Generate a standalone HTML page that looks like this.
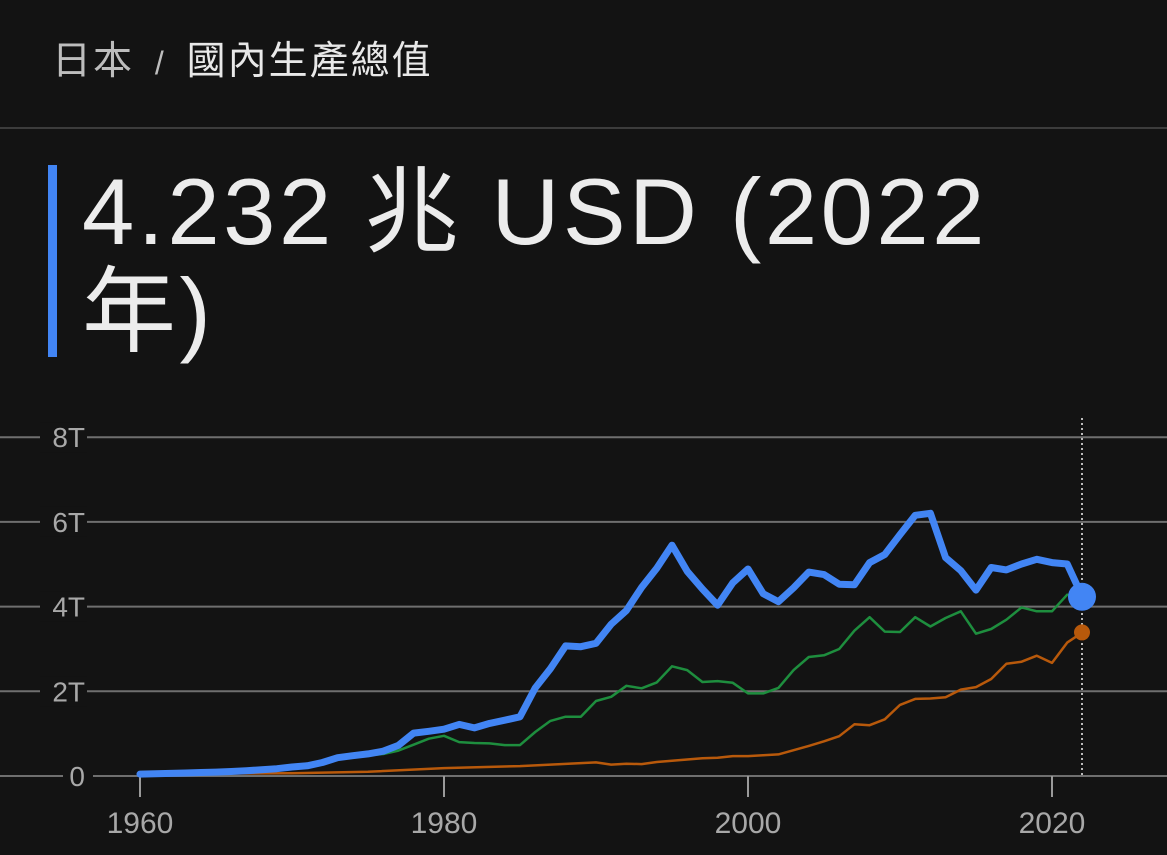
<!DOCTYPE html>
<html><head><meta charset="utf-8"><style>
body{margin:0;width:1167px;height:855px;background:#131313;overflow:hidden;font-family:"Liberation Sans","Noto Sans CJK TC",sans-serif;position:relative}
.bc{position:absolute;left:52px;top:30px;font-size:39px;color:#bdbdbd;white-space:nowrap;letter-spacing:2px}
.bc b{font-weight:normal;color:#e8e8e8}
.sep{position:absolute;left:0;top:127px;width:1167px;height:2px;background:#3c3c3c}
.bar{position:absolute;left:48px;top:165px;width:9px;height:192px;background:#4285f4}
.title{position:absolute;left:82px;top:162px;font-size:94px;line-height:100px;color:#ececec;width:1080px;letter-spacing:3.5px}
svg{position:absolute;left:0;top:0}
</style></head><body>
<div class="bc">日本 <span style="font-size:32px;margin:0 8px">/</span> <b>國內生產總值</b></div>
<div class="sep"></div>
<div class="bar"></div>
<div class="title">4.232 兆 USD (2022<br>年)</div>
<svg width="1167" height="855" id="s"></svg>
<script>
var s=document.getElementById('s'),h='';
function X(y){return 140+(y-1960)*15.2}
function Y(v){return 776-v*42.35}
var grid=[[0,'0'],[2,'2T'],[4,'4T'],[6,'6T'],[8,'8T']];
grid.forEach(function(g){var y=Y(g[0]);
h+='<line x1="0" x2="1167" y1="'+y+'" y2="'+y+'" stroke="#6f6f6f" stroke-width="2"/>';
h+='<rect x="'+(g[1]=='0'?63:40)+'" y="'+(y-15)+'" width="'+(g[1]=='0'?30:47)+'" height="30" fill="#131313"/>';
h+='<text x="85" y="'+(y+10)+'" text-anchor="end" font-size="28" fill="#a8a8a8">'+g[1]+'</text>';});
[1960,1980,2000,2020].forEach(function(yr){var x=X(yr);
h+='<line x1="'+x+'" x2="'+x+'" y1="776" y2="797" stroke="#9a9a9a" stroke-width="2"/>';
h+='<text x="'+x+'" y="833" text-anchor="middle" font-size="30" fill="#a8a8a8">'+yr+'</text>';});
h+='<line x1="1082" x2="1082" y1="418" y2="776" stroke="#bbb" stroke-width="2" stroke-dasharray="2,3"/>';
var jp=[0.044,0.054,0.061,0.070,0.082,0.091,0.106,0.124,0.147,0.172,0.213,0.240,0.318,0.432,0.479,0.521,0.586,0.722,1.013,1.055,1.105,1.218,1.135,1.243,1.318,1.399,2.079,2.533,3.072,3.054,3.133,3.584,3.909,4.454,4.907,5.449,4.834,4.415,4.033,4.562,4.888,4.304,4.115,4.445,4.815,4.755,4.530,4.515,5.038,5.231,5.700,6.157,6.203,5.156,4.850,4.389,4.923,4.866,5.005,5.118,5.040,5.006,4.232];
var de={1970:0.216,1971:0.25,1972:0.3,1973:0.4,1974:0.45,1975:0.49,1976:0.52,1977:0.6,1978:0.74,1979:0.88,1980:0.95,1981:0.80,1982:0.78,1983:0.77,1984:0.73,1985:0.73,1986:1.04,1987:1.30,1988:1.40,1989:1.40,1990:1.77,1991:1.87,1992:2.13,1993:2.07,1994:2.21,1995:2.59,1996:2.50,1997:2.22,1998:2.24,1999:2.20,2000:1.95,2001:1.95,2002:2.08,2003:2.50,2004:2.81,2005:2.85,2006:3.00,2007:3.43,2008:3.75,2009:3.41,2010:3.40,2011:3.75,2012:3.53,2013:3.73,2014:3.89,2015:3.36,2016:3.47,2017:3.69,2018:3.98,2019:3.89,2020:3.89,2021:4.28};
var ind={1960:0.037,1965:0.06,1970:0.063,1975:0.1,1980:0.186,1985:0.233,1990:0.321,1991:0.27,1992:0.29,1993:0.28,1994:0.33,1995:0.36,1996:0.39,1997:0.42,1998:0.43,1999:0.47,2000:0.47,2001:0.49,2002:0.51,2003:0.61,2004:0.71,2005:0.82,2006:0.94,2007:1.22,2008:1.20,2009:1.34,2010:1.68,2011:1.82,2012:1.83,2013:1.86,2014:2.04,2015:2.10,2016:2.29,2017:2.65,2018:2.70,2019:2.84,2020:2.67,2021:3.15,2022:3.39};
function pl(o,c,w){var p=[];for(var k in o)p.push(X(+k).toFixed(1)+','+Y(o[k]).toFixed(1));
return '<polyline points="'+p.join(' ')+'" fill="none" stroke="'+c+'" stroke-width="'+w+'" stroke-linejoin="round" stroke-linecap="round"/>';}
h+=pl(ind,'#b8590b',2.5);h+=pl(de,'#1e8e3e',2.5);
var j={};jp.forEach(function(v,i){j[1960+i]=v});h+=pl(j,'#4285f4',7);
h+='<circle cx="1082" cy="'+Y(3.39)+'" r="8" fill="#b8590b"/>';
h+='<circle cx="1082" cy="'+Y(4.232)+'" r="14" fill="#4285f4"/>';
s.innerHTML=h;
</script>
</body></html>
